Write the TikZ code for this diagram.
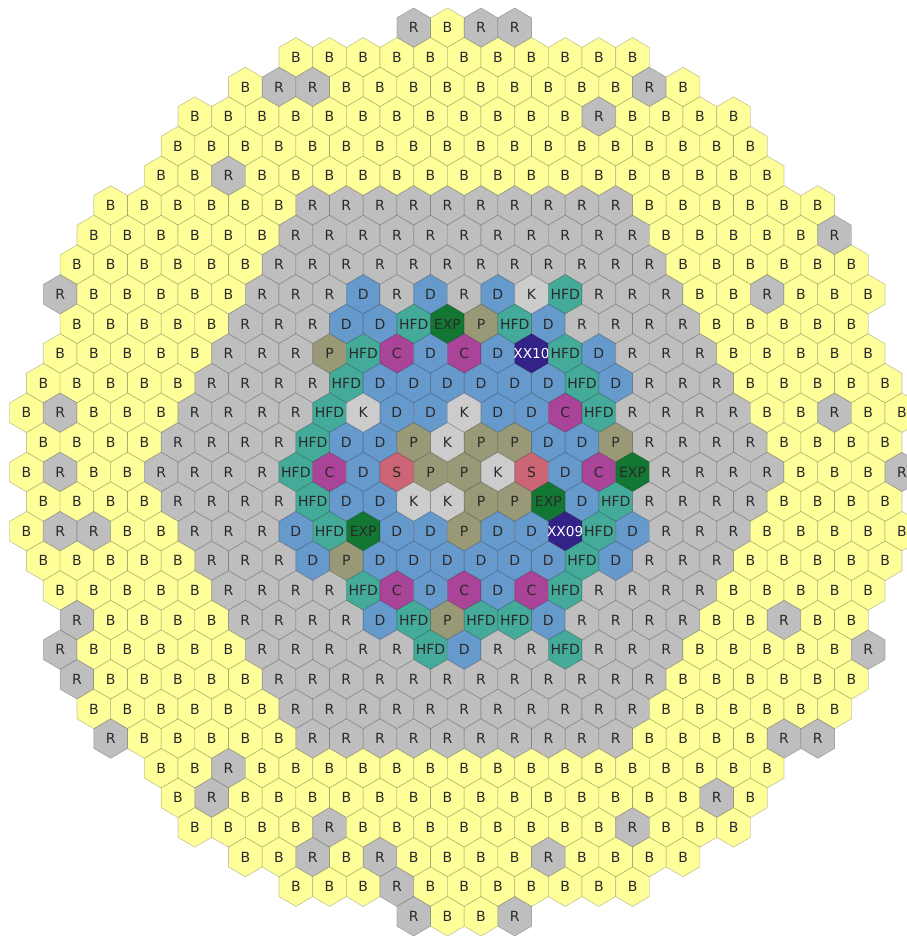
\documentclass[tikz,border=0pt]{standalone}
\usepackage{fontspec}
\setmainfont{DejaVu Sans}
\usetikzlibrary{calc}
\definecolor{Blanket}{HTML}{FFFF99}
\definecolor{Reflector}{HTML}{BEBEBE}
\definecolor{Shim}{HTML}{CCCCCC}
\definecolor{Driver}{HTML}{6699CC}
\definecolor{Teal}{HTML}{44AA99}
\definecolor{Green}{HTML}{117733}
\definecolor{Purple}{HTML}{AA4499}
\definecolor{Rose}{HTML}{CC6677}
\definecolor{Olive}{HTML}{999977}
\definecolor{Indigo}{HTML}{332288}
\definecolor{Ink}{HTML}{2A2A2A}
\newcommand{\hexrow}[3]{%
  \foreach \lab [count=\i from 0] in {#3} {
    \pgfmathsetmacro{\cx}{464.2+16.835*(#2+2*\i)}
    \pgfmathsetmacro{\cy}{27.7+29.62*#1}
    \draw[cell,kind\lab] (\cx,\cy) +(0,-19.75) -- +(16.835,-9.87) -- +(16.835,9.87) -- +(0,19.75) -- +(-16.835,9.87) -- +(-16.835,-9.87) -- cycle;
    \node[tag,tag\lab/.try] (c#1-\i) at (\cx,\cy) {\lab};
  }}

\begin{document}
\begin{tikzpicture}[
  x=0.75pt,y=-0.75pt,
  cell/.style={draw=black,draw opacity=.22,line width=0.5pt,line join=miter},
  tag/.style={inner sep=0pt,text=Ink,font=\fontsize{10.5}{12}\selectfont},
  tagXX09/.style={text=white,font=\fontsize{10.3}{12}\selectfont},
  tagXX10/.style={text=white,font=\fontsize{10.3}{12}\selectfont},
  kindB/.style={fill=Blanket},
  kindR/.style={fill=Reflector},
  kindK/.style={fill=Shim},
  kindD/.style={fill=Driver},
  kindHFD/.style={fill=Teal},
  kindEXP/.style={fill=Green},
  kindC/.style={fill=Purple},
  kindS/.style={fill=Rose},
  kindP/.style={fill=Olive},
  kindXX09/.style={fill=Indigo},
  kindXX10/.style={fill=Indigo}
]
\useasboundingbox (0,0) rectangle (907,936);
\clip (0,0) rectangle (907,936);
\hexrow{0}{-3}{R,B,R,R}
\hexrow{1}{-10}{B,B,B,B,B,B,B,B,B,B,B}
\hexrow{2}{-13}{B,R,R,B,B,B,B,B,B,B,B,B,R,B}
\hexrow{3}{-16}{B,B,B,B,B,B,B,B,B,B,B,B,R,B,B,B,B}
\hexrow{4}{-17}{B,B,B,B,B,B,B,B,B,B,B,B,B,B,B,B,B,B}
\hexrow{5}{-18}{B,B,R,B,B,B,B,B,B,B,B,B,B,B,B,B,B,B,B}
\hexrow{6}{-21}{B,B,B,B,B,B,R,R,R,R,R,R,R,R,R,R,B,B,B,B,B,B}
\hexrow{7}{-22}{B,B,B,B,B,B,R,R,R,R,R,R,R,R,R,R,R,B,B,B,B,B,R}
\hexrow{8}{-23}{B,B,B,B,B,B,R,R,R,R,R,R,R,R,R,R,R,R,B,B,B,B,B,B}
\hexrow{9}{-24}{R,B,B,B,B,B,R,R,R,D,R,D,R,D,K,HFD,R,R,R,B,B,R,B,B,B}
\hexrow{10}{-23}{B,B,B,B,B,R,R,R,D,D,HFD,EXP,P,HFD,D,R,R,R,R,B,B,B,B,B}
\hexrow{11}{-24}{B,B,B,B,B,R,R,R,P,HFD,C,D,C,D,XX10,HFD,D,R,R,R,B,B,B,B,B}
\hexrow{12}{-25}{B,B,B,B,B,R,R,R,R,HFD,D,D,D,D,D,D,HFD,D,R,R,R,B,B,B,B,B}
\hexrow{13}{-26}{B,R,B,B,B,R,R,R,R,HFD,K,D,D,K,D,D,C,HFD,R,R,R,R,B,B,R,B,B}
\hexrow{14}{-25}{B,B,B,B,R,R,R,R,HFD,D,D,P,K,P,P,D,D,P,R,R,R,R,B,B,B,B}
\hexrow{15}{-26}{B,R,B,B,R,R,R,R,HFD,C,D,S,P,P,K,S,D,C,EXP,R,R,R,R,B,B,B,R}
\hexrow{16}{-25}{B,B,B,B,R,R,R,R,HFD,D,D,K,K,P,P,EXP,D,HFD,R,R,R,R,B,B,B,B}
\hexrow{17}{-26}{B,R,R,B,B,R,R,R,D,HFD,EXP,D,D,P,D,D,XX09,HFD,D,R,R,R,B,B,B,B,B}
\hexrow{18}{-25}{B,B,B,B,B,R,R,R,D,P,D,D,D,D,D,D,HFD,D,R,R,R,B,B,B,B,B}
\hexrow{19}{-24}{B,B,B,B,B,R,R,R,R,HFD,C,D,C,D,C,HFD,R,R,R,R,B,B,B,B,B}
\hexrow{20}{-23}{R,B,B,B,B,R,R,R,R,D,HFD,P,HFD,HFD,D,R,R,R,R,B,B,R,B,B}
\hexrow{21}{-24}{R,B,B,B,B,B,R,R,R,R,R,HFD,D,R,R,HFD,R,R,R,B,B,B,B,B,R}
\hexrow{22}{-23}{R,B,B,B,B,B,R,R,R,R,R,R,R,R,R,R,R,R,B,B,B,B,B,B}
\hexrow{23}{-22}{B,B,B,B,B,B,R,R,R,R,R,R,R,R,R,R,R,B,B,B,B,B,B}
\hexrow{24}{-21}{R,B,B,B,B,B,R,R,R,R,R,R,R,R,R,R,B,B,B,B,R,R}
\hexrow{25}{-18}{B,B,R,B,B,B,B,B,B,B,B,B,B,B,B,B,B,B,B}
\hexrow{26}{-17}{B,R,B,B,B,B,B,B,B,B,B,B,B,B,B,B,R,B}
\hexrow{27}{-16}{B,B,B,B,R,B,B,B,B,B,B,B,B,R,B,B,B}
\hexrow{28}{-13}{B,B,R,B,R,B,B,B,B,R,B,B,B,B}
\hexrow{29}{-10}{B,B,B,R,B,B,B,B,B,B,B}
\hexrow{30}{-3}{R,B,B,R}
\end{tikzpicture}
\end{document}
